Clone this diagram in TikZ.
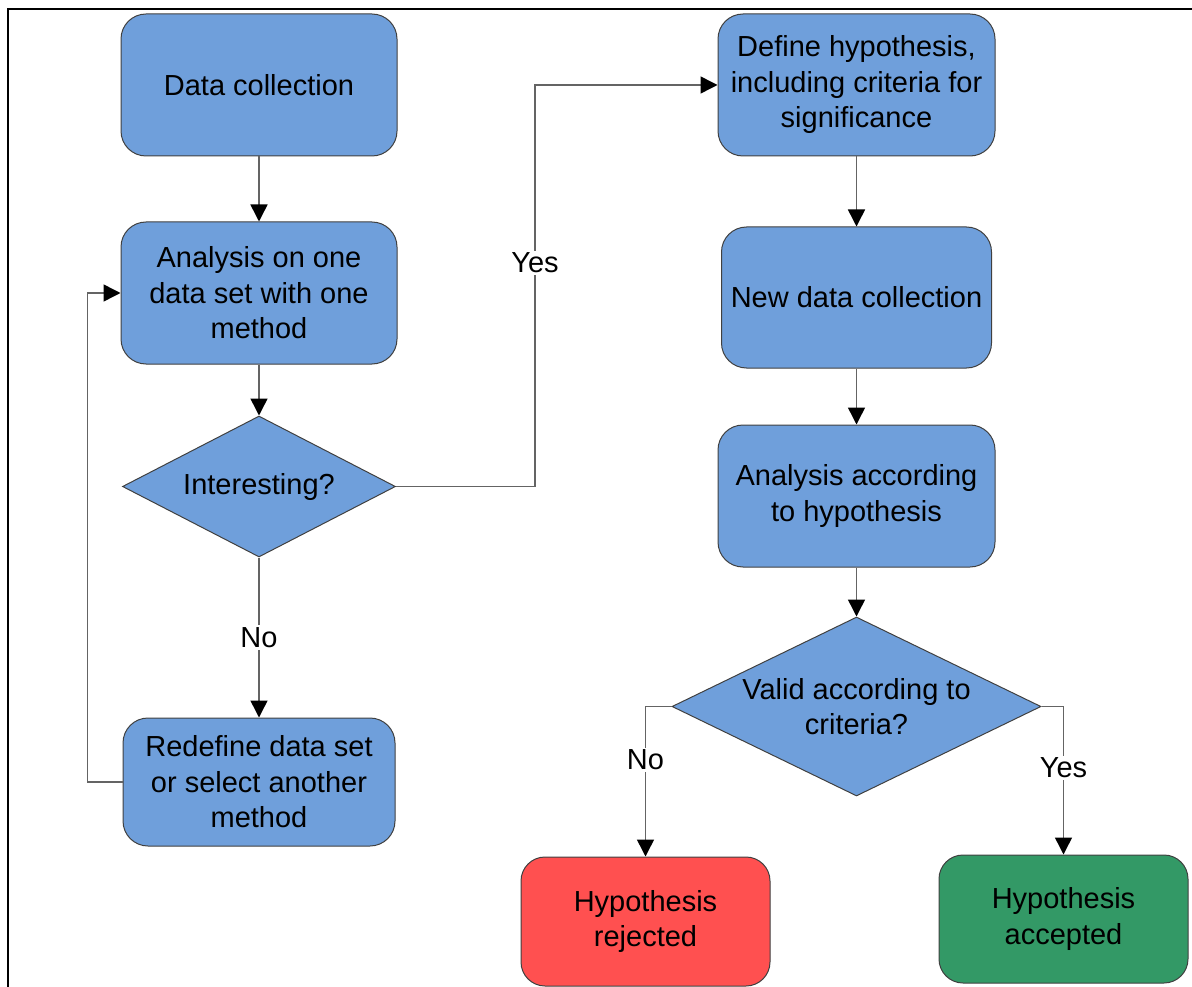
\documentclass[tikz,border=0pt]{standalone}
\usepackage{fontspec}
\setmainfont{Liberation Sans}
\usetikzlibrary{shapes.geometric,arrows.meta}
\definecolor{boxblue}{RGB}{111,159,219}
\definecolor{boxred}{RGB}{255,80,80}
\definecolor{boxgreen}{RGB}{51,153,102}
\definecolor{linegray}{RGB}{100,100,100}
\begin{document}
\begin{tikzpicture}[x=1pt,y=-1pt,
  every node/.style={font=\fontsize{29}{35.5}\selectfont},
  box/.style={draw=black!75,line width=1pt,rounded corners=25pt,fill=boxblue,
    align=center,inner sep=0pt},
  dia/.style={draw=black!75,line width=1pt,diamond,fill=boxblue,align=center,inner sep=0pt},
  conn/.style={draw=linegray,line width=1.5pt,-{Triangle[length=17pt,width=17pt,color=black]}},
  lab/.style={fill=white,inner sep=2pt}]
\useasboundingbox (0,0) rectangle (1192,987);
\draw[line width=2pt] (7.7,990) -- (7.7,9) -- (1195,9);

\node[box,minimum width=276pt,minimum height=142pt] (dc) at (259,85) {Data collection};
\node[box,minimum width=276pt,minimum height=142pt] (an) at (259,293) {Analysis on one\\data set with one\\method};
\node[dia,shape aspect=1.936,minimum width=273pt,minimum height=141pt] (int) at (259,486.5) {\raisebox{-3pt}{Interesting?}};
\node[box,minimum width=272pt,minimum height=128pt] (rd) at (259,782) {Redefine data set\\or select another\\method};

\node[box,minimum width=277pt,minimum height=142pt] (def) at (856.5,85) {Define hypothesis,\\including criteria for\\significance};
\node[box,minimum width=270pt,minimum height=141pt] (new) at (856.5,297.5) {New data collection};
\node[box,minimum width=277pt,minimum height=142pt] (an2) at (856.5,496) {Analysis according\\to hypothesis};
\node[dia,shape aspect=2.06,minimum width=369pt,minimum height=179pt] (val) at (856.5,706.5) {Valid according to\\criteria?};
\node[box,fill=boxred,rounded corners=24pt,minimum width=249pt,minimum height=129pt] (rej) at (645.5,921.5) {Hypothesis\\rejected};
\node[box,fill=boxgreen,rounded corners=24pt,minimum width=249pt,minimum height=128pt] (acc) at (1063.5,919) {Hypothesis\\accepted};

\draw[conn] (dc.south) -- (an.north);
\draw[conn] (an.south) -- (int.north);
\draw[conn] (int.south) -- node[lab]{No} (rd.north);
\draw[conn] (rd.west) -- ++(-35,0) coordinate (lb) |- (an.west);
\draw[conn] (int.east) -- ++(139,0) coordinate (yb) -- node[lab,pos=0.557]{Yes} (yb |- def.west) -- (def.west);
\draw[conn] (def.south) -- (new.north);
\draw[conn] (new.south) -- (an2.north);
\draw[conn] (an2.south) -- (val.north);
\draw[conn] (val.west) -| node[lab,pos=0.678]{No} (rej.north);
\draw[conn] (val.east) -| node[lab,pos=0.707]{Yes} (acc.north);
\end{tikzpicture}
\end{document}
